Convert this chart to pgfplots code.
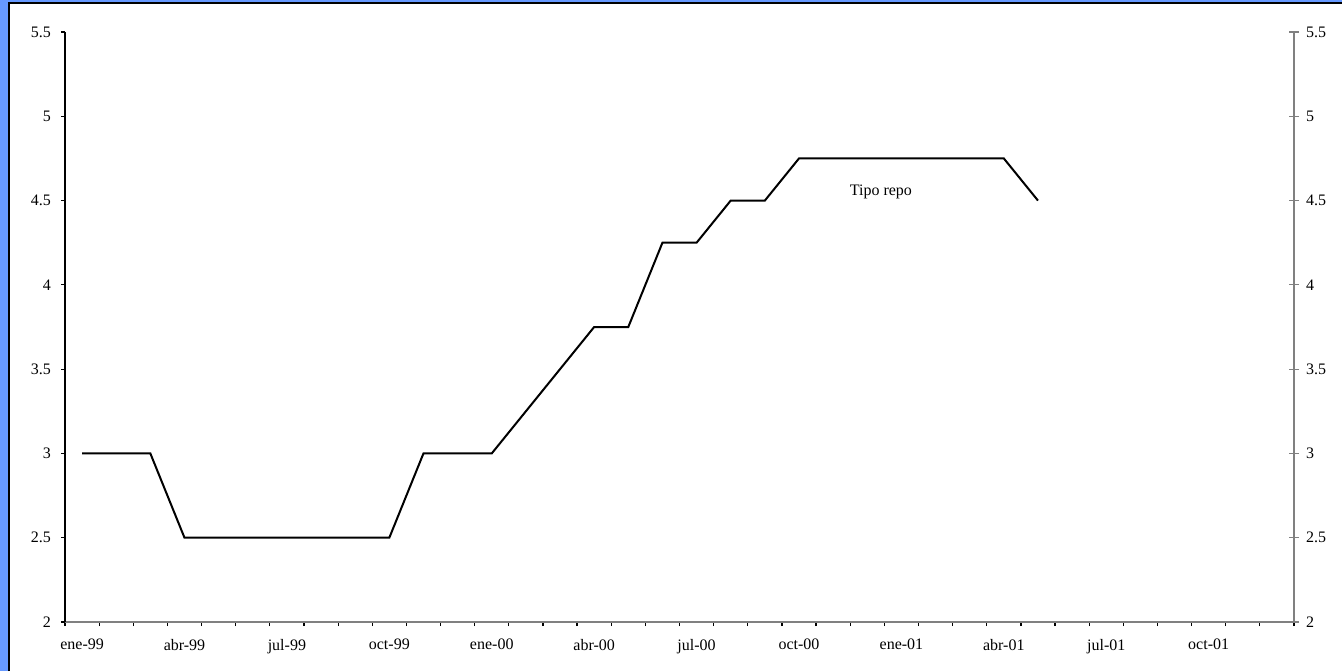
\documentclass[border=0pt]{standalone}
\usepackage{fontspec}
\setmainfont{Liberation Serif}
\usepackage{pgfplots}
\usepackage{pgfplotstable}
\pgfplotsset{compat=1.18}

\definecolor{frameblue}{RGB}{102,153,255}
\definecolor{axisgray}{RGB}{128,128,128}

% Monthly repo rate, months counted from ene-99 (value plotted at mid-month)
\pgfplotstableread{
m    rate
0.5  3
1.5  3
2.5  3
3.5  2.5
4.5  2.5
5.5  2.5
6.5  2.5
7.5  2.5
8.5  2.5
9.5  2.5
10.5 3
11.5 3
12.5 3
13.5 3.25
14.5 3.5
15.5 3.75
16.5 3.75
17.5 4.25
18.5 4.25
19.5 4.5
20.5 4.5
21.5 4.75
22.5 4.75
23.5 4.75
24.5 4.75
25.5 4.75
26.5 4.75
27.5 4.75
28.5 4.5
}\repo

\pgfplotsset{
  common/.style={
    at={(32.5pt,24.5pt)}, anchor=south west,
    scale only axis, width=614.5pt, height=295pt,
    xmin=0, xmax=36, ymin=2, ymax=5.5,
    ytick={2,2.5,...,5.5},
    /pgf/number format/assume math mode=true,
    every tick label/.append style={font=\fontsize{8}{9.6}\selectfont},
  },
}

\begin{document}
\begin{tikzpicture}
% blue frame with black edge
\fill[frameblue] (0,0) rectangle (671pt,335.5pt);
\fill[white] (4.5pt,0) rectangle (671pt,334pt);
\draw[black, line width=1pt] (4.5pt,0) -- (4.5pt,334pt) -- (671pt,334pt);

% left axis with the series
\begin{axis}[common,
  axis x line*=bottom, axis y line*=left,
  x axis line style={axisgray, line width=0.8pt, -},
  y axis line style={black, line width=0.7pt, -},
  tick align=outside,
  xtick={0,1,...,36}, xticklabels={},
  x tick style={black, line width=0.6pt},
  xtick pos=bottom,
  major tick length=2pt,
  y tick style={black, line width=0.6pt},
  ytick pos=left,
  yticklabel style={xshift=-1.5pt},
  extra x ticks={0.5,3.5,...,33.5},
  extra x tick labels={ene-99,abr-99,jul-99,oct-99,ene-00,abr-00,jul-00,oct-00,ene-01,abr-01,jul-01,oct-01},
  extra x tick style={major tick length=0pt, tick style={draw=none}, xticklabel style={yshift=-5pt}},
  clip=false,
]
\addplot[black, line width=1pt] table[x=m, y=rate] {\repo};
\node[font=\fontsize{8}{9.6}\selectfont] at (axis cs:23.9,4.55) {Tipo repo};
\end{axis}

% right-hand axis
\begin{axis}[common,
  axis x line=none, axis y line*=right,
  y axis line style={axisgray, line width=0.8pt, -},
  tick align=center, major tick length=5pt,
  y tick style={axisgray, line width=0.6pt},
  ytick pos=right,
  yticklabel style={xshift=0pt},
]
\addplot[draw=none] coordinates {(0,2)};
\end{axis}

\pgfresetboundingbox
\path[use as bounding box] (0,0) rectangle (671pt,335.5pt);
\end{tikzpicture}
\end{document}
